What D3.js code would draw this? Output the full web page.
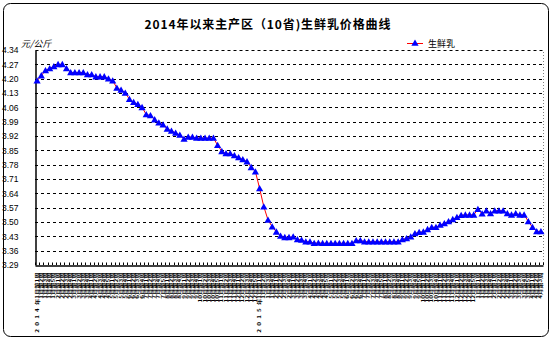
<!DOCTYPE html>
<html><head><meta charset="utf-8">
<script src="https://cdn.jsdelivr.net/npm/d3@7"></script>
<style>body{margin:0;background:#fff}svg{display:block}</style>
</head><body>
<script>
const title = "2014年以来主产区（10省)生鲜乳价格曲线";
const seriesName = "生鲜乳";
const unitLabel = "元/公斤";
const yTickLabels = ["4.34","4.27","4.20","4.13","4.06","3.99","3.92","3.85","3.78","3.71","3.64","3.57","3.50","3.43","3.36","3.29"];
const years = ["2014","2015","2016"];
const weeksPerMonth = [
  [5,4,4,5,4,4,5,4,4,5,4,5],
  [4,4,4,5,4,4,5,4,5,4,4,5],
  [4,4,5,3]
];
const yearLabelled = [true,true,false];
const prices = [
4.19,4.215,4.24,4.25,4.26,4.27,4.27,4.25,4.23,4.23,
4.23,4.23,4.22,4.22,4.21,4.21,4.21,4.20,4.19,4.155,
4.145,4.13,4.10,4.085,4.075,4.06,4.025,4.02,4.00,3.985,
3.975,3.955,3.945,3.935,3.925,3.905,3.915,3.915,3.91,3.91,
3.91,3.91,3.91,3.875,3.845,3.835,3.835,3.825,3.815,3.805,
3.795,3.767,3.746,3.664,3.575,3.51,3.477,3.452,3.432,3.425,
3.425,3.428,3.415,3.412,3.404,3.404,3.396,3.398,3.396,3.396,
3.396,3.396,3.396,3.396,3.396,3.396,3.41,3.41,3.404,3.404,
3.404,3.404,3.404,3.404,3.404,3.404,3.404,3.415,3.42,3.428,
3.444,3.45,3.452,3.464,3.474,3.474,3.485,3.493,3.503,3.513,
3.523,3.533,3.535,3.535,3.535,3.562,3.54,3.555,3.542,3.555,
3.555,3.555,3.542,3.535,3.542,3.535,3.535,3.503,3.474,3.454,
3.454
];

(function () {
const categories = [];
years.forEach((yr, yi) => {
  weeksPerMonth[yi].forEach((n, mi) => {
    for (let w = 1; w <= n; w++) {
      const pre = (mi === 0 && w === 1 && yearLabelled[yi]) ? yr + "年" : "";
      categories.push(pre + (mi + 1) + "月第" + w + "周");
    }
  });
});
const idx = d3.range(categories.length);

const W = 553, H = 341;
const svg = d3.select("body").append("svg").attr("width", W).attr("height", H);
svg.append("rect").attr("width", W).attr("height", H).attr("fill", "#fff");
svg.append("rect").attr("x", 3.5).attr("y", 3.5).attr("width", 545).attr("height", 333)
  .attr("rx", 7).attr("fill", "none").attr("stroke", "#000").attr("stroke-width", 1);

const pL = 35, pR = 543, pT = 50, pB = 265;
const yVals = yTickLabels.map(Number);
const y = d3.scaleLinear().domain([d3.min(yVals), d3.max(yVals)]).range([pB, pT]);
const x = d3.scaleBand().domain(idx).range([pL, pR]).padding(0);
const cx = i => x(i) + x.bandwidth() / 2;

svg.append("text").attr("x", 268).attr("y", 29).attr("text-anchor", "middle")
  .attr("font-family", "'Noto Sans CJK SC', sans-serif").attr("font-weight", "bold")
  .attr("font-size", 12).attr("letter-spacing", 0.9).text(title);

svg.append("g").selectAll("line").data(yVals.filter(v => v !== d3.min(yVals))).join("line")
  .attr("x1", pL).attr("x2", pR)
  .attr("y1", d => Math.round(y(d)) + 0.5).attr("y2", d => Math.round(y(d)) + 0.5)
  .attr("stroke", "#000").attr("stroke-width", 1).attr("stroke-dasharray", "3,3");
svg.append("path").attr("d", `M${pL},${pT + 0.5}H${pR + 0.5}V${pB}`)
  .attr("fill", "none").attr("stroke", "#808080").attr("stroke-dasharray", "1,2");

const yAxis = d3.axisLeft(y).tickValues(yVals).tickSize(0).tickFormat((d, i) => yTickLabels[i]);
const gy = svg.append("g").attr("transform", `translate(${pL + 0.5},0)`).call(yAxis);
gy.select(".domain").attr("stroke", "#000").attr("stroke-width", 1.5);
gy.selectAll("text").attr("x", -17).attr("text-anchor", "end").attr("dy", "0.35em")
  .attr("font-family", "'Liberation Sans', sans-serif").attr("font-size", 8.5).attr("fill", "#000");
svg.append("text").attr("x", 21).attr("y", 47).attr("font-family", "'Noto Sans CJK SC', sans-serif")
  .attr("font-size", 9).attr("font-style", "italic").text(unitLabel);

const xAxis = d3.axisBottom(x).tickSize(0).tickFormat(i => categories[i]);
const gx = svg.append("g").attr("transform", `translate(0,${pB + 0.5})`).call(xAxis);
gx.select(".domain").attr("stroke", "#000").attr("stroke-width", 1.5);
gx.selectAll("text")
  .attr("transform", "rotate(-90) scale(1,0.72)").attr("text-anchor", "end")
  .attr("x", -7).attr("y", 0).attr("dy", "0.35em")
  .attr("font-family", "'Noto Sans CJK SC', sans-serif").attr("font-weight", "bold")
  .attr("font-size", 6.3).attr("fill", "#000")
  .each(function (i) {
    const s = categories[i];
    const k = s.indexOf("年");
    if (k > 0) {
      const t = d3.select(this).text("");
      t.append("tspan").attr("letter-spacing", 3.2).text(s.slice(0, k));
      t.append("tspan").text(s.slice(k));
    }
  });
svg.append("g").selectAll("line").data(d3.range(categories.length + 1)).join("line")
  .attr("x1", i => Math.round(pL + i * x.step()) + 0.5)
  .attr("x2", i => Math.round(pL + i * x.step()) + 0.5)
  .attr("y1", pB).attr("y2", pB - 2.5).attr("stroke", "#000");

const line = d3.line().x((d, i) => cx(i)).y(d => y(d));
svg.append("path").datum(prices).attr("d", line).attr("fill", "none")
  .attr("stroke", "#ff0000").attr("stroke-width", 1);
const tri = "M0,-3.5L3.6,2.8L-3.6,2.8Z";
svg.append("g").selectAll("path").data(prices).join("path")
  .attr("d", tri).attr("transform", (d, i) => `translate(${cx(i)},${y(d)})`)
  .attr("fill", "#0000ff");

const lg = svg.append("g").attr("transform", "translate(407,43)");
lg.append("line").attr("x1", 0).attr("x2", 16).attr("y1", 0.5).attr("y2", 0.5).attr("stroke", "#ff0000");
lg.append("path").attr("d", tri).attr("transform", "translate(8,0)").attr("fill", "#0000ff");
lg.append("text").attr("x", 21).attr("y", 3.5).attr("font-family", "'Noto Sans CJK SC', sans-serif")
  .attr("font-size", 9).text(seriesName);
})();
</script>
</body></html>
